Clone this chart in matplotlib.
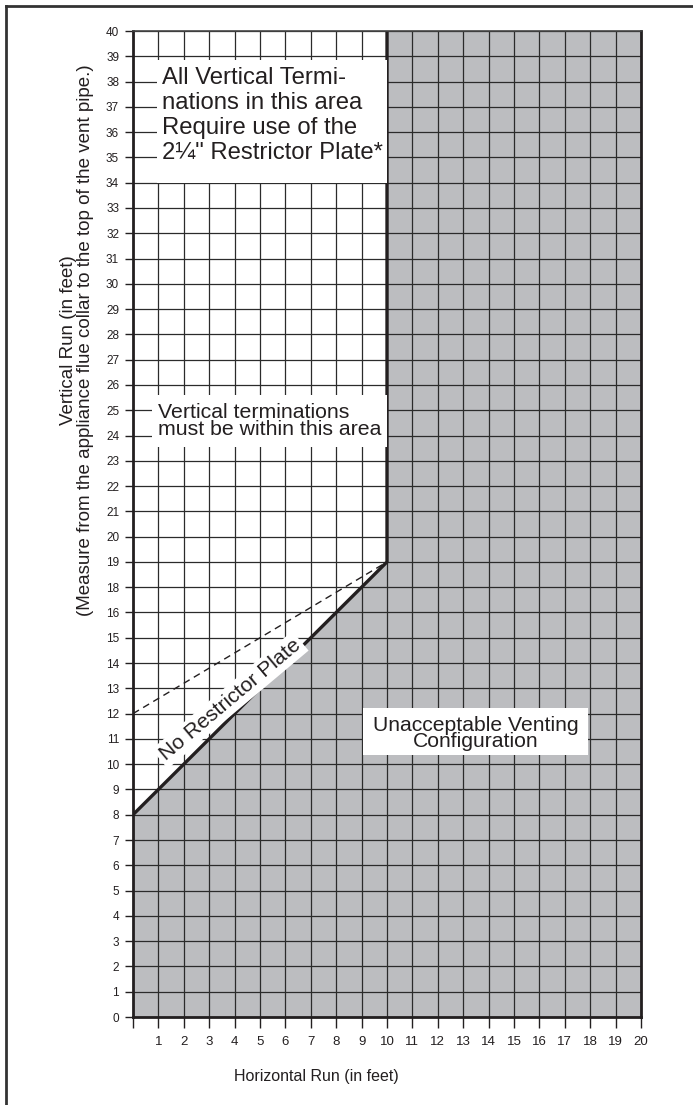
import matplotlib
matplotlib.use("Agg")
from matplotlib import pyplot as plt
from matplotlib.patches import Rectangle
from matplotlib.lines import Line2D

# tick labels as printed on the chart (note: 17 is not printed)
y_labels = list(range(0, 17)) + list(range(18, 41))
x_labels = [''] + [str(i) for i in range(1, 21)]

# boundary of the acceptable area (feet, as labelled)
boundary_x = [0, 10, 10]
boundary_y = [8, 19, 40]
# dashed restrictor plate line
dashed_x = [0, 10]
dashed_y = [12, 19]

FONT = ['Liberation Sans', 'DejaVu Sans']
INK = '#231f20'
GRAY = '#bcbdc0'


def to_pos(values):
    return [y_labels.index(v) for v in values]


fig = plt.figure(figsize=(6.93, 11.05), dpi=100)
ax = fig.add_axes([133 / 693, 1 - 1017 / 1105, 508 / 693, 986 / 1105])
top = len(y_labels) - 1
right = len(x_labels) - 1
ax.set_xlim(0, right)
ax.set_ylim(0, top)

by = to_pos(boundary_y)
ax.fill([0] + boundary_x + [right, right], [0] + by + [top, 0],
        color=GRAY, lw=0, zorder=1)
ax.plot(boundary_x, by, color=INK, lw=2.4, zorder=4, solid_capstyle='butt')
ax.plot(dashed_x, to_pos(dashed_y), color=INK, lw=1.0, ls=(0, (5, 3.5)), zorder=4)

ax.set_xticks(range(len(x_labels)))
ax.set_xticklabels(x_labels)
ax.set_yticks(range(len(y_labels)))
ax.set_yticklabels([str(v) for v in y_labels])
ax.set_axisbelow(False)
ax.grid(True, color='#2b2b2b', lw=0.9)
for gl in ax.get_xgridlines() + ax.get_ygridlines():
    gl.set_zorder(2)
ax.tick_params(axis='y', length=6, width=1, pad=4, labelsize=8.5,
               color=INK, labelcolor=INK)
ax.tick_params(axis='x', length=8, width=1, pad=6, labelsize=9.5,
               color=INK, labelcolor=INK)
for lab in ax.get_xticklabels() + ax.get_yticklabels():
    lab.set_family(FONT)
for side in ['left', 'bottom', 'right']:
    ax.spines[side].set_linewidth(2)
    ax.spines[side].set_color(INK)
ax.spines['top'].set_linewidth(1.2)
ax.spines['top'].set_color('#444444')
for sp in ax.spines.values():
    sp.set_zorder(7)

# white label boxes
ax.add_patch(Rectangle((0.94, 33.0), 10 - 0.94, 4.86, color='white', lw=0, zorder=5))
ax.text(1.13, 37.58, 'All Vertical Termi-\nnations in this area\nRequire use of the\n2\u00bc" Restrictor Plate*',
        ha='left', va='top', fontsize=17.2, linespacing=1.18, family=FONT,
        color=INK, zorder=6)

ax.add_patch(Rectangle((0.75, 22.55), 10 - 0.75, 2.05, color='white', lw=0, zorder=5))
ax.text(0.98, 24.29, 'Vertical terminations\nmust be within this area',
        ha='left', va='top', fontsize=15.3, linespacing=0.86, family=FONT,
        color=INK, zorder=6)

ax.text(3.82, 12.54, 'No Restrictor Plate', rotation=40, rotation_mode='anchor',
        ha='center', va='center', fontsize=15.2, family=FONT, color=INK, zorder=6,
        bbox=dict(boxstyle='square,pad=0.15', fc='white', ec='none'))

ax.add_patch(Rectangle((9.06, 10.36), 17.9 - 9.06, 1.86, color='white', lw=0, zorder=5))
ax.text(13.48, 11.22, 'Unacceptable Venting\nConfiguration',
        ha='center', va='center', fontsize=15.2, linespacing=0.84, family=FONT,
        color=INK, zorder=6)

# axis titles
fig.text(77 / 693, 1 - 340 / 1105,
         'Vertical Run (in feet)\n(Measure from the appliance flue collar to the top of the vent pipe.)',
         rotation=90, ha='center', va='center', fontsize=13.5, linespacing=0.95,
         family=FONT, color=INK)
fig.text(316 / 693, 1 - 1077 / 1105, 'Horizontal Run (in feet)',
         ha='center', va='center', fontsize=11.5, family=FONT, color=INK)

# outer frame (top and left edges)
fig.add_artist(Line2D([6 / 693, 1], [1 - 6 / 1105, 1 - 6 / 1105],
                      transform=fig.transFigure, color='#333333', lw=2))
fig.add_artist(Line2D([6 / 693, 6 / 693], [0, 1 - 6 / 1105],
                      transform=fig.transFigure, color='#333333', lw=2))

fig.savefig('out.png', dpi=100)
